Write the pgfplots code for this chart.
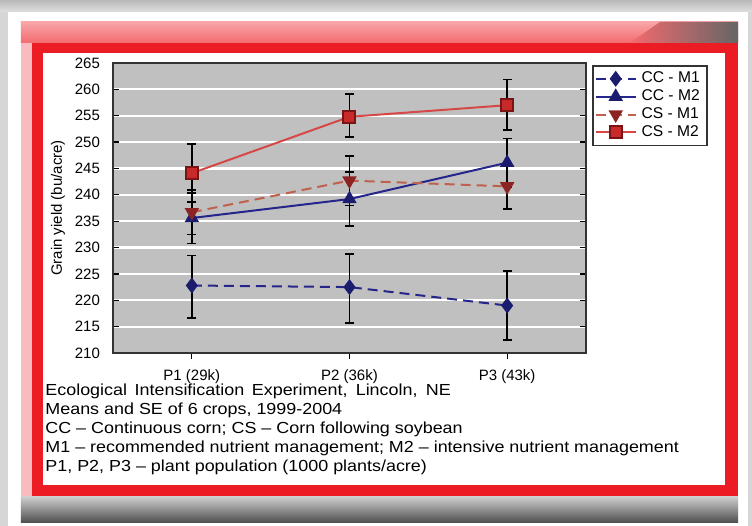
\documentclass[border=0pt]{standalone}
\usepackage{fontspec}
\setmainfont{Liberation Sans}
\usepackage{pgfplots}
\pgfplotsset{compat=1.18}
\definecolor{bgGray}{HTML}{D6D6D6}
\definecolor{frameRed}{HTML}{EC1C24}
\definecolor{bandPink}{HTML}{F36A6E}
\definecolor{plotGray}{HTML}{C0C0C0}
\definecolor{ccBlue}{HTML}{25258C}
\definecolor{ccMark}{HTML}{1C1C6E}
\definecolor{csMoneline}{HTML}{C0604E}
\definecolor{csMonemark}{HTML}{8C2424}
\definecolor{csMtwoline}{HTML}{D64848}
\definecolor{csMtwomark}{HTML}{C62A2A}
\definecolor{csMtwoedge}{HTML}{7A1414}

\pgfplotsset{
  myerr/.style={
    error bars/y dir=both, error bars/y explicit,
    error bars/error bar style={black, line width=0.8pt, solid},
    error bars/error mark options={rotate=90, mark size=2.2pt, black, line width=0.8pt, solid},
  }
}

\pgfplotstableread{
x y ep em
0 222.8 5.7 6.2
1 222.5 6.3 6.8
2 219.0 6.5 6.5
}\ccmone
\pgfplotstableread{
x y ep em
0 235.6 4.8 4.8
1 239.2 5.1 5.1
2 246.1 4.6 4.6
}\ccmtwo
\pgfplotstableread{
x y ep em
0 236.7 4.2 4.2
1 242.7 4.7 4.7
2 241.6 4.3 4.3
}\csmone
\pgfplotstableread{
x y ep em
0 244.1 5.5 5.5
1 254.8 4.3 3.8
2 257.0 4.9 4.7
}\csmtwo

\begin{document}
\begin{tikzpicture}[x=0.5pt,y=0.5pt]
\fill[bgGray] (0,0) rectangle (752,526);
\fill[white] (8,0) rectangle (748,514);
\shade[top color=gray!55, bottom color=gray!25] (0,514) rectangle (752,526);
\shade[top color=bandPink!60!white, bottom color=bandPink] (21,483) rectangle (738,504);
\shade[left color=bandPink, right color=black!60] (660,504) -- (738,504) -- (738,483) -- (630,483) -- cycle;
\fill[frameRed] (21,29) rectangle (738,483);
\fill[frameRed!30!white] (21,29) rectangle (32,483);
\fill[white] (43,41) rectangle (725,473);
\shade[top color=gray!40, bottom color=black!70] (21,3) rectangle (738,29);

\begin{axis}[
  at={(56.5pt,86.5pt)}, anchor=south west,
  scale only axis, width=236.5pt, height=145pt,
  xmin=-0.5, xmax=2.5, ymin=210, ymax=265,
  xtick={0,1,2}, xticklabels={P1 (29k),P2 (36k),P3 (43k)},
  ytick={210,215,...,265},
  axis background/.style={fill=plotGray},
  ymajorgrids, grid style={white, line width=1.1pt},
  axis line style={black!80, line width=0.8pt},
  xtick align=outside, xtick pos=bottom,
  ytick align=inside, ytick pos=both,
  major tick length=3pt,
  tick style={black, line width=0.6pt},
  /pgf/number format/assume math mode=true,
  tick label style={font=\fontsize{7.5}{9}\selectfont},
  yticklabel style={xshift=-3pt},
  xticklabel style={yshift=-2pt},
  legend style={at={(rel axis cs:1.0127,0.993)}, anchor=north west, draw=black!80, line width=0.8pt, fill=white,
    font=\fontsize{7.8}{8}\selectfont, row sep=0pt, inner xsep=1pt, inner ysep=2pt,
    nodes={inner xsep=2.5pt, inner ysep=1pt}},
  legend cell align=left,
  legend image code/.code={
    \draw[#1, mark repeat=2, mark phase=2] plot coordinates {(0cm,0cm) (0.35cm,0cm) (0.7cm,0cm)};
  },
]
\addplot[myerr, ccBlue, line width=1pt, dash pattern=on 5pt off 3pt,
  mark=diamond*, mark size=3.2pt, mark options={solid, fill=ccMark, draw=ccMark}]
  table[x=x, y=y, y error plus=ep, y error minus=em] {\ccmone};
\addlegendentry{CC - M1}
\addplot[myerr, ccBlue, line width=1pt,
  mark=triangle*, mark size=3.2pt, mark options={solid, fill=ccMark, draw=ccMark}]
  table[x=x, y=y, y error plus=ep, y error minus=em] {\ccmtwo};
\addlegendentry{CC - M2}
\addplot[myerr, csMoneline, line width=1pt, dash pattern=on 5pt off 3pt,
  mark=triangle*, mark size=3.2pt, mark options={solid, rotate=180, fill=csMonemark, draw=csMonemark}]
  table[x=x, y=y, y error plus=ep, y error minus=em] {\csmone};
\addlegendentry{CS - M1}
\addplot[myerr, csMtwoline, line width=1pt,
  mark=square*, mark size=3pt, mark options={solid, fill=csMtwomark, draw=csMtwoedge}]
  table[x=x, y=y, y error plus=ep, y error minus=em] {\csmtwo};
\addlegendentry{CS - M2}
\end{axis}

\node[rotate=90, anchor=center, inner sep=0pt, font=\fontsize{7.5}{9}\selectfont] at (58,318) {Grain yield (bu/acre)};

\node[anchor=north west, inner sep=0pt, font=\fontsize{8}{9.5}\selectfont] at (45,144)
{\scalebox{1.12}[1]{\begin{tabular}{@{}l@{}}
\makebox[181pt][s]{Ecological Intensification Experiment, Lincoln, NE}\\
Means and SE of 6 crops, 1999-2004\\
CC -- Continuous corn; CS -- Corn following soybean\\
M1 -- recommended nutrient management; M2 -- intensive nutrient management\\
P1, P2, P3 -- plant population (1000 plants/acre)
\end{tabular}}};
\end{tikzpicture}
\end{document}
